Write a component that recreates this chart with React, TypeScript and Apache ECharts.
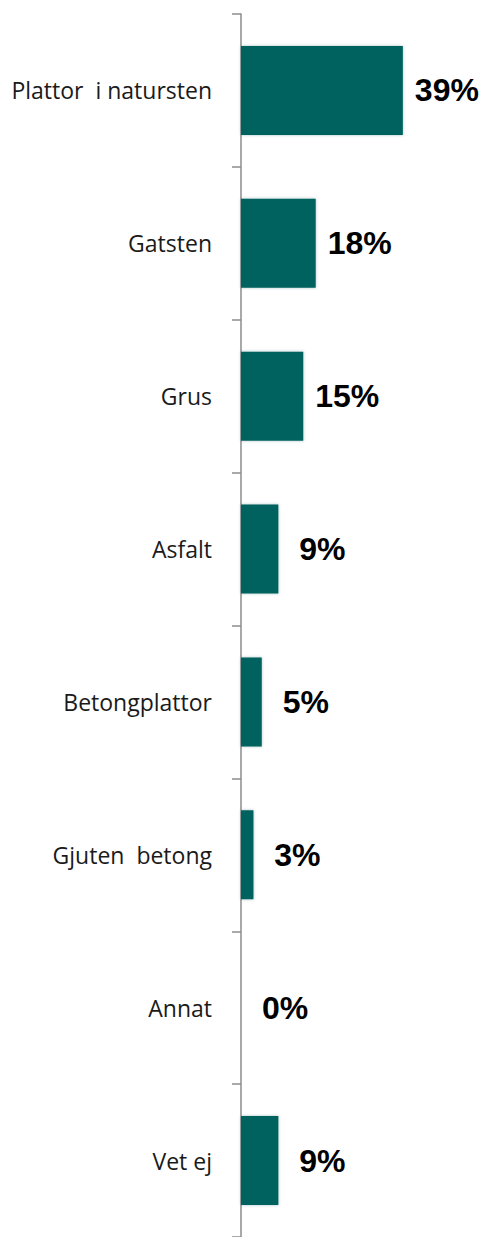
import React, { useEffect, useRef } from "react";
import * as echarts from "echarts";

const categories = [
  "Plattor  i natursten",
  "Gatsten",
  "Grus",
  "Asfalt",
  "Betongplattor",
  "Gjuten  betong",
  "Annat",
  "Vet ej",
];
const values = [39, 18, 15, 9, 5, 3, 0, 9];

export default function App() {
  const ref = useRef<HTMLDivElement>(null);
  useEffect(() => {
    if (!ref.current) return;
    const chart = echarts.init(ref.current, null, { renderer: "svg" });
    chart.setOption({
      animation: false,
      backgroundColor: "#ffffff",
      grid: { left: 241, right: 39.5, top: 14, bottom: -2, containLabel: false },
      xAxis: {
        type: "value",
        min: 0,
        max: 50,
        show: false,
      },
      yAxis: {
        type: "category",
        data: categories,
        inverse: true,
        axisLine: { show: true, lineStyle: { color: "#8c8c8c", width: 1.5 } },
        axisTick: { show: true, length: 9, lineStyle: { color: "#8c8c8c", width: 1.5 } },
        axisLabel: {
          margin: 29,
          color: "#1a1a1a",
          fontFamily: "Open Sans",
          fontSize: 23,
        },
        splitLine: { show: false },
      },
      series: [
        {
          type: "bar",
          data: values,
          barWidth: 89,
          itemStyle: {
            color: "#02625f",
            shadowBlur: 3,
            shadowColor: "rgba(0,70,70,0.35)",
          },
          label: {
            show: true,
            position: ["100%", "50%"],
            offset: [44, 0],
            align: "center",
            verticalAlign: "middle",
            formatter: (p: any) => p.value + "%",
            fontFamily: "Liberation Sans, Arial, sans-serif",
            fontWeight: "bold",
            fontSize: 32,
            color: "#000000",
          },
        },
      ],
    });
    return () => chart.dispose();
  }, []);
  return (
    <div
      ref={ref}
      style={{ position: "absolute", left: 0, top: 0, width: 488, height: 1237 }}
    />
  );
}
